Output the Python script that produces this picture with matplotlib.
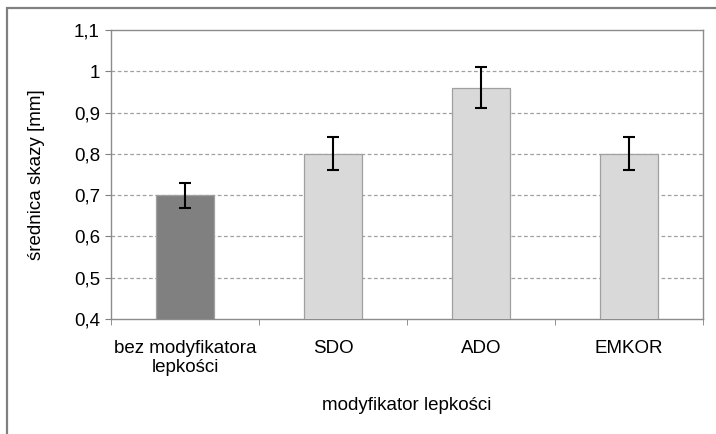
import matplotlib
matplotlib.use("Agg")
import matplotlib.pyplot as plt
from matplotlib.patches import Rectangle
from matplotlib.ticker import FuncFormatter, MultipleLocator
import numpy as np

plt.rcParams['font.family'] = ['Liberation Sans', 'DejaVu Sans']

categories = ['bez modyfikatora\nlepkości', 'SDO', 'ADO', 'EMKOR']
values = [0.70, 0.80, 0.96, 0.80]
errors = [0.03, 0.04, 0.05, 0.04]
colors = ['#808080', '#d9d9d9', '#d9d9d9', '#d9d9d9']

fs = 13.5

fig = plt.figure(figsize=(7.16, 4.34), dpi=100)
ax = fig.add_axes([111/716, 1 - 319/434, (703-111)/716, (319-30)/434])

# outer chart frame (cropped on right and bottom)
fig.patches.append(Rectangle((7/716, -0.05), 1.0, 1 - 8/434 + 0.05,
                             transform=fig.transFigure, fill=False,
                             edgecolor='#808080', linewidth=1.6))

x = np.arange(len(categories))
ax.bar(x, values, width=0.39, bottom=0, color=colors, edgecolor='#a0a0a0',
       linewidth=0.9, zorder=3)
ax.errorbar(x, values, yerr=errors, fmt='none', ecolor='black',
            elinewidth=1.5, capsize=4, capthick=1.5, zorder=4)

ax.set_xlim(-0.5, len(categories) - 0.5)
ax.set_ylim(0.4, 1.1)
ax.yaxis.set_major_locator(MultipleLocator(0.1))
ax.yaxis.set_major_formatter(FuncFormatter(lambda v, p: ('%g' % round(v, 1)).replace('.', ',')))
for yv in [0.5, 0.6, 0.7, 0.8, 0.9, 1.0]:
    ax.axhline(yv, color='#a0a0a0', linestyle=(0, (3, 2)), linewidth=0.9, zorder=1)

ax.set_xticks(x)
ax.set_xticklabels(categories, fontsize=fs, linespacing=1.15)
ax.set_xticks(np.arange(len(categories) + 1) - 0.5, minor=True)
ax.tick_params(axis='x', which='major', length=0, pad=15)
ax.tick_params(axis='x', which='minor', length=4, color='#808080', direction='out')
ax.tick_params(axis='y', length=4, color='#808080', labelsize=fs, pad=4)

for s in ax.spines.values():
    s.set_color('#8c8c8c')
    s.set_linewidth(1.0)

ax.set_ylabel('średnica skazy [mm]', fontsize=fs, labelpad=21)
ax.set_xlabel('modyfikator lepkości', fontsize=fs, labelpad=15)

fig.savefig('out.png', dpi=100)
